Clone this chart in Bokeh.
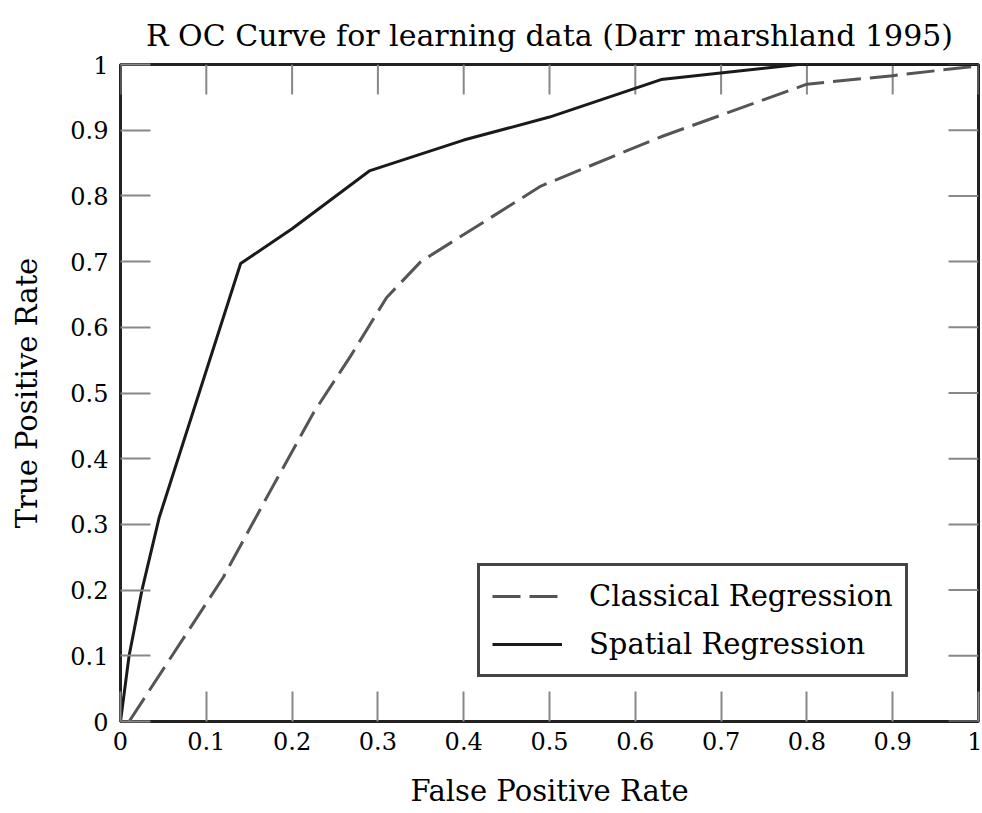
import math
from bokeh.plotting import figure
from bokeh.models import Range1d, FixedTicker, LinearAxis, Legend, LegendItem
from bokeh.embed import file_html
from bokeh.resources import INLINE

title_text = "R OC Curve for learning data (Darr marshland 1995)"
x_label = "False Positive Rate"
y_label = "True Positive Rate"

tick_values = [0, 0.1, 0.2, 0.3, 0.4, 0.5, 0.6, 0.7, 0.8, 0.9, 1]
tick_labels = ["0", "0.1", "0.2", "0.3", "0.4", "0.5", "0.6", "0.7", "0.8", "0.9", "1"]

classical_fpr = [0.01, 0.12, 0.17, 0.225, 0.27, 0.31, 0.35, 0.49, 0.63, 0.80, 0.90, 1.00]
classical_tpr = [0.0, 0.22, 0.34, 0.47, 0.56, 0.645, 0.70, 0.815, 0.89, 0.97, 0.983, 0.998]

spatial_fpr = [0.0, 0.01, 0.025, 0.045, 0.14, 0.20, 0.29, 0.40, 0.50, 0.63, 0.79, 1.00]
spatial_tpr = [0.0, 0.10, 0.20, 0.31, 0.697, 0.75, 0.838, 0.885, 0.92, 0.977, 1.0, 1.0]

series_names = ["Classical Regression", "Spatial Regression"]

FONT = "DejaVu Serif"
TICK_COLOR = "#888888"

p = figure(width=982, height=812, output_backend="svg", toolbar_location=None,
           x_range=Range1d(0, 1), y_range=Range1d(0, 1),
           min_border_left=120, min_border_right=4, min_border_top=64, min_border_bottom=91,
           x_axis_location=None, y_axis_location=None)
p.background_fill_color = "white"
p.border_fill_color = "white"
p.outline_line_color = "#222222"
p.outline_line_width = 3
p.grid.visible = False

p.title.text = title_text
p.title.align = "center"
p.title.text_font = FONT
p.title.text_font_size = "30px"
p.title.text_font_style = "normal"
p.title.text_color = "black"
p.title.standoff = 23

overrides = {v: s for v, s in zip(tick_values, tick_labels)}

def make_axis(label, standoff, label_standoff):
    ax = LinearAxis(ticker=FixedTicker(ticks=tick_values))
    ax.axis_line_color = None
    ax.major_tick_in = 30
    ax.major_tick_out = 0
    ax.major_tick_line_color = TICK_COLOR
    ax.major_tick_line_width = 2
    ax.minor_tick_line_color = None
    ax.major_label_overrides = overrides
    ax.major_label_text_font = FONT
    ax.major_label_text_font_size = "24px"
    ax.major_label_text_color = "black"
    ax.major_label_standoff = label_standoff
    ax.axis_label = label
    ax.axis_label_text_font = FONT
    ax.axis_label_text_font_size = "29px"
    ax.axis_label_text_font_style = "normal"
    ax.axis_label_text_color = "black"
    ax.axis_label_standoff = standoff
    return ax

p.add_layout(make_axis(x_label, 21, 10), "below")
p.add_layout(make_axis(y_label, 23, 12), "left")

# tick marks on the top and right edges of the frame
n = len(tick_values)
p.ray(x=tick_values, y=[1] * n, length=30, length_units="screen", angle=-math.pi / 2,
      line_color=TICK_COLOR, line_width=2)
p.ray(x=[1] * n, y=tick_values, length=30, length_units="screen", angle=math.pi,
      line_color=TICK_COLOR, line_width=2)

r1 = p.line(classical_fpr, classical_tpr, line_color="#555555", line_width=3, line_dash="28 9")
r2 = p.line(spatial_fpr, spatial_tpr, line_color="#1a1a1a", line_width=3)

legend = Legend(items=[LegendItem(label=series_names[0], renderers=[r1]),
                       LegendItem(label=series_names[1], renderers=[r2])],
                location=(357, 44))
legend.label_text_font = FONT
legend.label_text_font_size = "29px"
legend.label_text_color = "black"
legend.glyph_width = 70
legend.glyph_height = 36
legend.label_standoff = 27
legend.label_height = 36
legend.spacing = 12
legend.padding = 12
legend.margin = 0
legend.border_line_color = "#444444"
legend.border_line_alpha = 1
legend.border_line_width = 3
legend.background_fill_color = "white"
legend.background_fill_alpha = 1
p.add_layout(legend, "center")

open("out.html", "w").write(file_html(p, INLINE))
